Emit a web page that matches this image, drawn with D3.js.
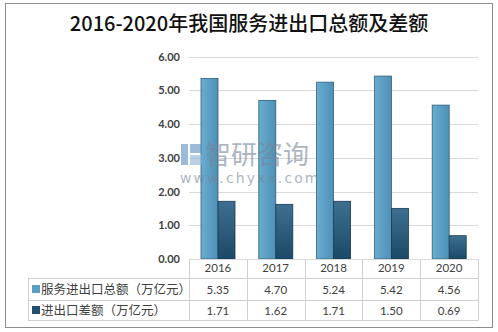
<!DOCTYPE html>
<html><head><meta charset="utf-8">
<script src="https://cdn.jsdelivr.net/npm/d3@7/dist/d3.min.js"></script>
<style>body{margin:0;background:#fff}svg{display:block}</style>
</head><body>
<script>
const categories = ["2016","2017","2018","2019","2020"];
const seriesNames = ["服务进出口总额（万亿元）","进出口差额（万亿元）"];
const totalValues = [5.35,4.70,5.24,5.42,4.56];
const diffValues = [1.71,1.62,1.71,1.50,0.69];
const yTicks = [0,1,2,3,4,5,6];
const title = "2016-2020年我国服务进出口总额及差额";

const W=498,H=332;
const svg=d3.select("body").append("svg").attr("width",W).attr("height",H);
const defs=svg.append("defs");
const g1=defs.append("linearGradient").attr("id","g1").attr("x1",0).attr("x2",1).attr("y1",0).attr("y2",0);
g1.append("stop").attr("offset",0).attr("stop-color","#6aadd0");
g1.append("stop").attr("offset",1).attr("stop-color","#4f90b6");
const g2=defs.append("linearGradient").attr("id","g2").attr("x1",0).attr("x2",0).attr("y1",0).attr("y2",1);
g2.append("stop").attr("offset",0).attr("stop-color","#3f6f90");
g2.append("stop").attr("offset",1).attr("stop-color","#1b4a68");

svg.append("rect").attr("x",5.5).attr("y",3.5).attr("width",487).attr("height",324)
  .attr("fill","#fff").attr("stroke","#8c8c8c").attr("stroke-width",1);

svg.append("text").attr("x",249).attr("y",31).attr("text-anchor","middle")
  .attr("font-family","'Noto Sans CJK SC','DejaVu Serif',serif").attr("font-weight",500)
  .attr("font-size",20).attr("fill","#111").text(title);

const x=d3.scaleBand().domain(categories).range([189,478]);
const y=d3.scaleLinear().domain([0,6]).range([259,56.5]);

// gridlines
svg.append("g").selectAll("line").data(yTicks.slice(1)).join("line")
  .attr("x1",189).attr("x2",478).attr("y1",d=>Math.round(y(d))+0.5).attr("y2",d=>Math.round(y(d))+0.5)
  .attr("stroke","#d9d9d9");

// y axis labels
const yAxis=d3.axisLeft(y).tickValues(yTicks).tickFormat(d3.format(".2f")).tickSize(0).tickPadding(9);
const ya=svg.append("g").attr("transform","translate(189,0)").call(yAxis);
ya.select(".domain").remove();
ya.selectAll("text").attr("font-family","Lato,'Open Sans',sans-serif").attr("font-size",11).attr("fill","#404040").attr("font-weight","bold");

const bw=17, off=12;
svg.append("g").selectAll("rect").data(categories).join("rect")
  .attr("x",d=>x(d)+off).attr("width",bw)
  .attr("y",(d,i)=>y(totalValues[i])).attr("height",(d,i)=>y(0)-y(totalValues[i]))
  .attr("fill","url(#g1)").attr("stroke","#2f5f7d").attr("stroke-width",0.8);
svg.append("g").selectAll("rect").data(categories).join("rect")
  .attr("x",d=>x(d)+off+bw).attr("width",bw)
  .attr("y",(d,i)=>y(diffValues[i])).attr("height",(d,i)=>y(0)-y(diffValues[i]))
  .attr("fill","url(#g2)").attr("stroke","#173a52").attr("stroke-width",0.8);

// watermark
const wm=svg.append("g").attr("opacity",0.6);
wm.append("rect").attr("x",181).attr("y",144).attr("width",7).attr("height",21).attr("fill","#5a8fc0");
wm.append("rect").attr("x",190).attr("y",144).attr("width",12).attr("height",9).attr("fill","#5a8fc0");
wm.append("rect").attr("x",190).attr("y",155).attr("width",12).attr("height",10).attr("fill","#8ab4d8");
wm.append("text").attr("x",205).attr("y",164).attr("font-family","'Noto Sans CJK SC',sans-serif")
  .attr("font-size",26).attr("fill","#75869a").text("智研咨询");
wm.append("text").attr("x",180).attr("y",183).attr("font-family","'DejaVu Sans',sans-serif")
  .attr("font-size",14).attr("fill","#75869a").attr("letter-spacing",2.1).text("www.chyxx.com");

// table
const tl=svg.append("g").attr("stroke","#d0d0d0").attr("fill","none");
tl.append("line").attr("x1",28).attr("x2",478).attr("y1",278.5).attr("y2",278.5);
tl.append("line").attr("x1",28).attr("x2",478).attr("y1",300.5).attr("y2",300.5);
tl.append("line").attr("x1",28).attr("x2",478).attr("y1",320.5).attr("y2",320.5);
tl.append("line").attr("x1",28.5).attr("x2",28.5).attr("y1",278.5).attr("y2",320.5);
tl.append("line").attr("x1",189).attr("x2",478).attr("y1",259.5).attr("y2",259.5).attr("stroke","#d9d9d9");
tl.selectAll("line.v").data(categories.concat(["end"])).join("line").attr("class","v")
  .attr("x1",(d,i)=>i<5?Math.round(x(d))+0.5:478.5).attr("x2",(d,i)=>i<5?Math.round(x(d))+0.5:478.5)
  .attr("y1",259).attr("y2",320.5);

const tf="Lato,'Open Sans','Noto Sans CJK SC',sans-serif";
svg.append("g").selectAll("text").data(categories).join("text")
  .attr("x",d=>x(d)+x.bandwidth()/2).attr("y",272).attr("text-anchor","middle")
  .attr("font-family",tf).attr("font-size",11.5).attr("fill","#404040").text(d=>d);
svg.append("g").selectAll("text").data(totalValues).join("text")
  .attr("x",(d,i)=>x(categories[i])+x.bandwidth()/2).attr("y",294).attr("text-anchor","middle")
  .attr("font-family",tf).attr("font-size",11.5).attr("fill","#404040").text(d=>d.toFixed(2));
svg.append("g").selectAll("text").data(diffValues).join("text")
  .attr("x",(d,i)=>x(categories[i])+x.bandwidth()/2).attr("y",315).attr("text-anchor","middle")
  .attr("font-family",tf).attr("font-size",11.5).attr("fill","#404040").text(d=>d.toFixed(2));

// legend keys
const legFills=["#5b9ec4","#23506e"];
[0,1].forEach(i=>{
  const cy=[289.5,310.5][i];
  svg.append("rect").attr("x",32).attr("y",cy-4.5).attr("width",8).attr("height",8).attr("fill",legFills[i]);
  svg.append("text").attr("x",41).attr("y",cy+4.5).attr("font-family","'Noto Sans CJK SC',sans-serif")
    .attr("font-size",12.5).attr("fill","#404040").text(seriesNames[i]);
});
</script>
</body></html>
